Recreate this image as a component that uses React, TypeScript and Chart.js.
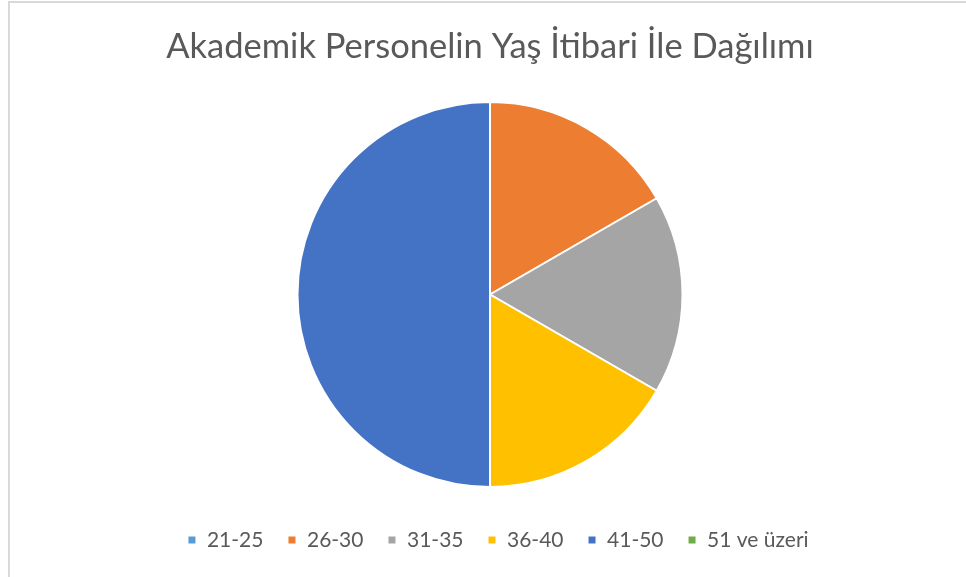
import React, { useEffect, useRef } from "react";
import { Chart, registerables } from "chart.js";

Chart.register(...registerables);

const titleText = "Akademik Personelin Yaş İtibari İle Dağılımı";
const categories = ["21-25", "26-30", "31-35", "36-40", "41-50", "51 ve üzeri"];
const values = [0, 1, 1, 1, 3, 0];
const colors = ["#5B9BD5", "#ED7D31", "#A5A5A5", "#FFC000", "#4472C4", "#70AD47"];

const legendShift = {
  id: "legendShift",
  afterLayout(chart: any) {
    const l = chart.legend;
    if (l) {
      l.left += 8;
      l.right += 8;
    }
  },
};

export default function App() {
  const ref = useRef<HTMLCanvasElement | null>(null);
  useEffect(() => {
    if (!ref.current) return;
    const chart = new Chart(ref.current, {
      type: "pie",
      data: {
        labels: categories,
        datasets: [
          {
            data: values,
            backgroundColor: colors,
            borderColor: "#ffffff",
            borderWidth: 2,
            radius: 192.5,
          } as any,
        ],
      },
      options: {
        animation: false,
        responsive: false,
        maintainAspectRatio: false,
        layout: { padding: { left: 14, right: 0, top: 0, bottom: 16.5 } },
        plugins: {
          title: {
            display: true,
            text: titleText,
            color: "#595959",
            font: { family: "Lato", size: 34.5, weight: "normal" },
            padding: { top: 26.5, bottom: 15.6 },
          },
          legend: {
            display: true,
            position: "bottom",
            labels: {
              color: "#595959",
              font: { family: "Lato", size: 21 },
              boxWidth: 9,
              boxHeight: 9,
              padding: 24,
            },
          },
          tooltip: { enabled: false },
        },
      },
      plugins: [legendShift],
    });
    return () => chart.destroy();
  }, []);
  return (
    <div style={{ position: "fixed", left: 0, top: 0, width: 966, height: 577, background: "#fff", overflow: "hidden" }}>
      <div
        style={{
          position: "absolute",
          left: 8,
          top: 1,
          width: 1000,
          height: 700,
          borderTop: "2px solid #d9d9d9",
          borderLeft: "2px solid #d9d9d9",
          boxSizing: "border-box",
        }}
      />
      <canvas ref={ref} width={966} height={577} style={{ position: "absolute", left: 0, top: 0 }} />
    </div>
  );
}
